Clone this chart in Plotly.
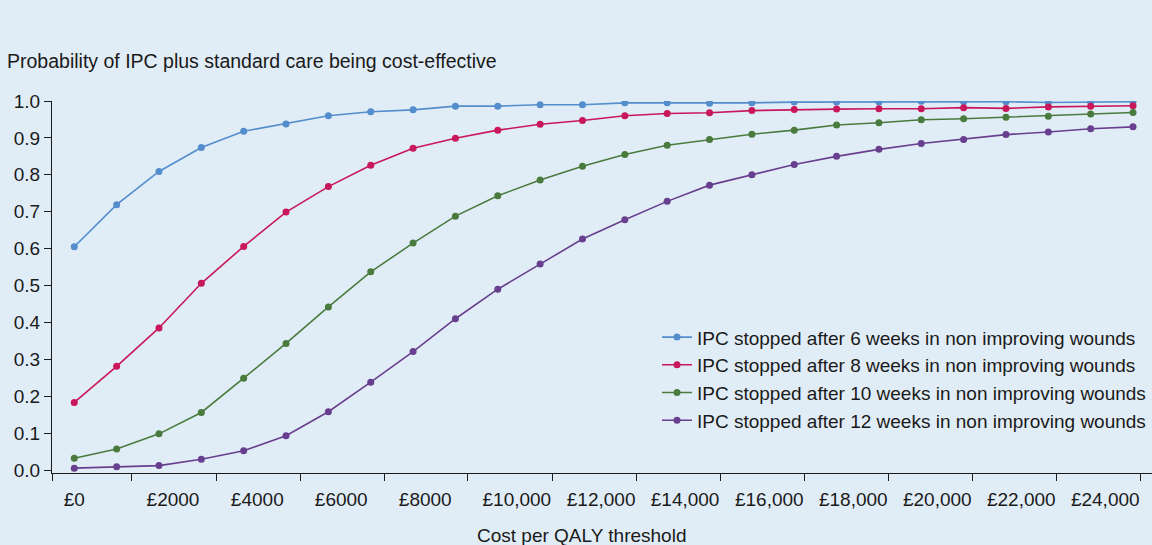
import plotly.graph_objects as go

# ---- data ----
thresholds = [0, 1000, 2000, 3000, 4000, 5000, 6000, 7000, 8000, 9000, 10000, 11000, 12000,
              13000, 14000, 15000, 16000, 17000, 18000, 19000, 20000, 21000, 22000, 23000,
              24000, 25000]

series_names = [
    "IPC stopped after 6 weeks in non improving wounds",
    "IPC stopped after 8 weeks in non improving wounds",
    "IPC stopped after 10 weeks in non improving wounds",
    "IPC stopped after 12 weeks in non improving wounds",
]

p_6weeks = [0.605, 0.719, 0.809, 0.874, 0.918, 0.938, 0.960, 0.971, 0.976, 0.986, 0.986, 0.990,
            0.990, 0.995, 0.995, 0.994, 0.995, 0.997, 0.997, 0.997, 0.999, 0.998, 0.998, 0.996,
            0.998, 0.998]
p_8weeks = [0.183, 0.281, 0.385, 0.506, 0.606, 0.699, 0.768, 0.826, 0.872, 0.899, 0.921, 0.937,
            0.947, 0.960, 0.966, 0.968, 0.974, 0.977, 0.978, 0.979, 0.979, 0.982, 0.980, 0.984,
            0.986, 0.987]
p_10weeks = [0.032, 0.057, 0.098, 0.156, 0.249, 0.343, 0.442, 0.537, 0.615, 0.688, 0.743, 0.786,
             0.823, 0.855, 0.880, 0.896, 0.910, 0.921, 0.935, 0.941, 0.949, 0.952, 0.956, 0.959,
             0.965, 0.969]
p_12weeks = [0.005, 0.009, 0.012, 0.029, 0.052, 0.093, 0.158, 0.238, 0.321, 0.410, 0.490, 0.558,
             0.626, 0.678, 0.728, 0.772, 0.800, 0.828, 0.850, 0.869, 0.885, 0.896, 0.909, 0.916,
             0.925, 0.930]

x_tick_labels = ["£0", "£2000", "£4000", "£6000", "£8000", "£10,000", "£12,000", "£14,000",
                 "£16,000", "£18,000", "£20,000", "£22,000", "£24,000"]
y_tick_values = [0.0, 0.1, 0.2, 0.3, 0.4, 0.5, 0.6, 0.7, 0.8, 0.9, 1.0]

# ---- axis geometry (category band edges, in threshold units) ----
x_range = [-526, 25448]
band_edges = [-526, 1362, 3352, 5335, 7318, 9294, 11284, 13267, 15256, 17239, 19222, 21205, 23188, 25171]
# labels are left-aligned a little inside each band
label_pos = [band_edges[0] + 260] + [e + 330 for e in band_edges[1:len(x_tick_labels)]]

colors = ["#548dcc", "#c8175a", "#4a7b3e", "#683f8e"]
FONT = "Liberation Sans, Arial, Helvetica, sans-serif"
BG = "#e1edf6"
FS = 19

fig = go.Figure()
for i, (name, vals) in enumerate(zip(series_names, [p_6weeks, p_8weeks, p_10weeks, p_12weeks])):
    fig.add_trace(go.Scatter(
        x=thresholds, y=vals, name=name, mode="lines+markers",
        line=dict(color=colors[i], width=1.6),
        marker=dict(color=colors[i], size=7),
    ))

fig.update_layout(
    width=1152, height=545,
    margin=dict(l=52, r=0, t=101, b=72),
    paper_bgcolor=BG, plot_bgcolor=BG,
    font=dict(family=FONT, size=FS, color="#1a1a1a"),
    showlegend=True,
    legend=dict(x=0.550, y=0.416, xanchor="left", yanchor="top",
                bgcolor="rgba(0,0,0,0)", font=dict(size=FS, color="#1a1a1a"),
                itemwidth=30),
    xaxis=dict(
        range=x_range, showgrid=False, zeroline=False,
        showline=True, linecolor="#1a1a1a", linewidth=1.3,
        tickmode="array", tickvals=label_pos, ticktext=x_tick_labels, ticks="",
        ticklabelposition="outside right",
        ticklabelstandoff=9,
        minor=dict(tickmode="array", tickvals=band_edges, ticks="outside",
                   ticklen=7, tickcolor="#1a1a1a", tickwidth=1.3),
    ),
    yaxis=dict(
        range=[-0.0081, 1.0], showgrid=False, zeroline=False,
        showline=True, linecolor="#1a1a1a", linewidth=1.3,
        tickmode="array", tickvals=y_tick_values,
        ticktext=[f"{v:.1f}" for v in y_tick_values],
        ticks="outside", ticklen=7, tickcolor="#1a1a1a", tickwidth=1.3,
    ),
    annotations=[
        dict(text="Probability of IPC plus standard care being cost-effective",
             xref="paper", yref="paper", x=-0.043, y=1.1075, xanchor="left", yanchor="middle",
             showarrow=False, font=dict(size=19.5, color="#1a1a1a")),
        dict(text="Cost per QALY threshold",
             xref="paper", yref="paper", x=0.4818, y=-0.167, xanchor="center", yanchor="middle",
             showarrow=False, font=dict(size=FS, color="#1a1a1a")),
    ],
)

fig.write_html(
    "out.html",
    config={"displayModeBar": False},
    post_script="document.body.style.margin='0';document.body.style.padding='0';"
                "document.body.style.overflow='hidden';",
)
